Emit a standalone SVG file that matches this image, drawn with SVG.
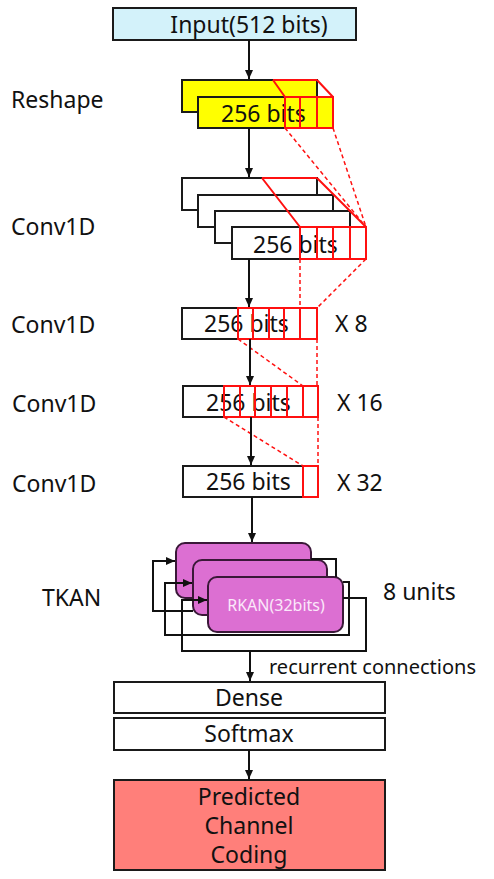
<svg xmlns="http://www.w3.org/2000/svg" width="494" height="879" viewBox="0 0 494 879">
<defs>
<marker id="ah" markerUnits="userSpaceOnUse" markerWidth="10" markerHeight="10" refX="9" refY="5" orient="auto">
<path d="M0,1 L9,5 L0,9 z" fill="#111"/>
</marker>
</defs>
<style>
.box{fill:#fff;stroke:#1a1a1a;stroke-width:2}
.t{font-family:"Noto Sans","Open Sans",sans-serif;font-size:23px;fill:#111}
.tm{text-anchor:middle}
.red{fill:none;stroke:#ff1010;stroke-width:2}
.dash{fill:none;stroke:#ff1010;stroke-width:1.5;stroke-dasharray:4 3}
.conn{fill:none;stroke:#111;stroke-width:2}
.rk{fill:#dc6fd2;stroke:#3a1838;stroke-width:2}
</style>
<rect width="494" height="879" fill="#fff"/>

<g id="labels">
<text class="t" x="11" y="108">Reshape</text>
<text class="t" x="11" y="235">Conv1D</text>
<text class="t" x="11" y="333">Conv1D</text>
<text class="t" x="12" y="412">Conv1D</text>
<text class="t" x="12" y="492">Conv1D</text>
<text class="t" x="42" y="606">TKAN</text>
<text class="t" x="335" y="332">X 8</text>
<text class="t" x="337" y="411">X 16</text>
<text class="t" x="337" y="491">X 32</text>
<text class="t" x="383" y="600">8 units</text>
</g>

<g id="input">
<rect x="113" y="8" width="243" height="32" fill="#d3f2fa" stroke="#1a1a1a" stroke-width="2"/>
<text class="t tm" x="249" y="33">Input(512 bits)</text>
</g>

<g id="reshape">
<rect x="182" y="80" width="135" height="32" fill="#ffff00" stroke="#1a1a1a" stroke-width="2"/>
<rect x="198" y="97" width="135" height="31" fill="#ffff00" stroke="#1a1a1a" stroke-width="2"/>
<text class="t" x="221" y="122">256 bits</text>
<rect class="red" x="285" y="97" width="48" height="31"/>
<path class="red" d="M300,97V128M317,97V128M273,80H317M273,80L285,97M317,80L333,97"/>
</g>

<g id="conv1">
<rect class="box" x="182" y="178" width="135" height="32"/>
<rect class="box" x="198" y="195" width="135" height="32"/>
<rect class="box" x="215" y="211" width="135" height="32"/>
<rect class="box" x="232" y="227" width="134" height="32"/>
<text class="t" x="253" y="253">256 bits</text>
<rect class="red" x="300" y="227" width="66" height="32"/>
<path class="red" d="M317,227V259M333,227V259M350,227V259M262,178H317M262,178L300,227M317,178L366,227"/>
</g>

<g id="conv8">
<rect class="box" x="182" y="308" width="135" height="31"/>
<text class="t" x="204" y="332">256 bits</text>
<rect class="red" x="238" y="308" width="79" height="31"/>
<path class="red" d="M253,308V339M269,308V339M284,308V339M300,308V339"/>
</g>

<g id="conv16">
<rect class="box" x="183" y="386" width="135" height="31"/>
<text class="t" x="206" y="411">256 bits</text>
<rect class="red" x="224" y="386" width="94" height="31"/>
<path class="red" d="M240,386V417M255,386V417M271,386V417M287,386V417M303,386V417"/>
</g>

<g id="conv32">
<rect class="box" x="183" y="466" width="135" height="31"/>
<text class="t" x="206" y="490">256 bits</text>
<rect class="red" x="303" y="466" width="15" height="31"/>
</g>

<g id="tkan">
<rect class="rk" x="176" y="543" width="135" height="55" rx="9"/>
<rect class="rk" x="193" y="560" width="134" height="55" rx="9"/>
<rect class="rk" x="208" y="577" width="135" height="55" rx="9"/>
<text x="276" y="611" text-anchor="middle" font-family="Noto Sans, Open Sans, sans-serif" font-size="16" fill="#fbe8fa">RKAN(32bits)</text>
</g>

<g id="dense">
<rect class="box" x="114" y="682" width="271" height="31"/>
<text class="t tm" x="249" y="706">Dense</text>
</g>
<g id="softmax">
<rect class="box" x="114" y="718" width="271" height="32"/>
<text class="t tm" x="249" y="742">Softmax</text>
</g>
<g id="output">
<rect x="114" y="780" width="271" height="90" fill="#ff7f7a" stroke="#1a1a1a" stroke-width="2"/>
<text class="t tm" x="249" y="805">Predicted</text>
<text class="t tm" x="249" y="834">Channel</text>
<text class="t tm" x="249" y="863">Coding</text>
</g>

<g id="connectors">
<path class="dash" d="M285,128L366,227M333,128L366,227"/>
<path class="dash" d="M300,259L300,308M366,259L317,308"/>
<path class="dash" d="M238,339L303,386M317,339L317,386"/>
<path class="dash" d="M224,417L303,466M318,417L318,466"/>
<path class="conn" d="M249,40V79" marker-end="url(#ah)"/>
<path class="conn" d="M249,128V177" marker-end="url(#ah)"/>
<path class="conn" d="M249,259V307" marker-end="url(#ah)"/>
<path class="conn" d="M250,339V385" marker-end="url(#ah)"/>
<path class="conn" d="M251,417V465" marker-end="url(#ah)"/>
<path class="conn" d="M252,497V542" marker-end="url(#ah)"/>
<path class="conn" d="M311,559H336V577"/>
<path class="conn" d="M193,611H153V561H175" marker-end="url(#ah)"/>
<path class="conn" d="M343,582H349V635H165V583H192" marker-end="url(#ah)"/>
<path class="conn" d="M343,598H366V651H182V600H207" marker-end="url(#ah)"/>
<path class="conn" d="M250,651V681" marker-end="url(#ah)"/>
<text x="269" y="674" font-family="Noto Sans, Open Sans, sans-serif" font-size="20" fill="#111">recurrent connections</text>
<path class="conn" d="M249,750V779" marker-end="url(#ah)"/>
</g>
</svg>
